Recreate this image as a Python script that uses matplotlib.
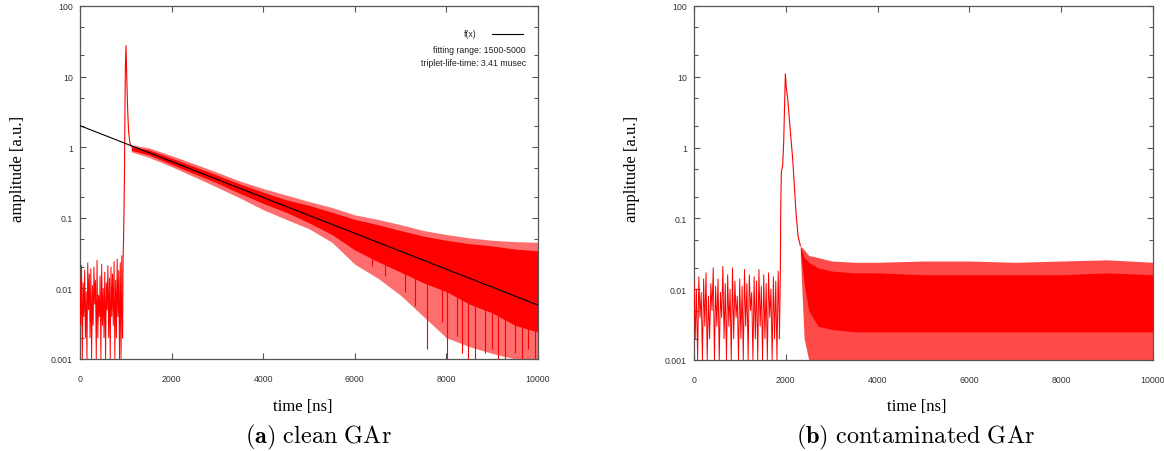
import matplotlib
matplotlib.use('Agg')

import matplotlib.pyplot as plt
import numpy as np
from matplotlib.ticker import FixedLocator, LogLocator, FuncFormatter, NullFormatter

plt.rcParams['mathtext.fontset'] = 'cm'

# ---------------- panel (a): clean GAr ----------------
# pre-trigger noise, alternating spike tops / bottoms (0..930 ns)
pre_a_val = [0.014, 0.003, 0.021, 0.001, 0.012, 0.004, 0.018, 0.002, 0.009, 0.001,
             0.023, 0.005, 0.016, 0.002, 0.019, 0.001, 0.011, 0.003, 0.020, 0.006,
             0.013, 0.001, 0.025, 0.002, 0.008, 0.004, 0.015, 0.001, 0.022, 0.003,
             0.010, 0.002, 0.017, 0.001, 0.012, 0.005, 0.021, 0.002, 0.014, 0.001,
             0.020, 0.004, 0.016, 0.003, 0.024, 0.001, 0.013, 0.002, 0.026, 0.004,
             0.018, 0.001, 0.023, 0.001, 0.029, 0.002]
pre_a_end = 930

# prompt peak
peak_a_t = [930, 940, 950, 960, 970, 980, 990, 1004, 1020, 1040, 1060, 1090, 1120]
peak_a_v = [0.002, 0.026, 0.045, 0.12, 0.35, 2.5, 12.8, 27.4, 10.3, 3.5, 1.7, 1.15, 1.02]

# slow component band
band_a_t = [1120, 1500, 2000, 2500, 3000, 3500, 4000, 4500, 5000, 5500,
            6000, 6500, 7000, 7500, 8000, 8500, 9000, 9500, 10000]
band_a_top = [1.08, 0.98, 0.76, 0.58, 0.44, 0.33, 0.26, 0.21, 0.17, 0.14,
              0.11, 0.095, 0.08, 0.066, 0.058, 0.052, 0.048, 0.046, 0.045]
band_a_hi = [1.02, 0.92, 0.70, 0.53, 0.40, 0.30, 0.23, 0.18, 0.15, 0.12,
             0.095, 0.08, 0.066, 0.055, 0.048, 0.043, 0.040, 0.036, 0.034]
band_a_lo = [0.90, 0.78, 0.57, 0.42, 0.31, 0.22, 0.16, 0.12, 0.085, 0.058,
             0.035, 0.024, 0.017, 0.012, 0.009, 0.006, 0.0045, 0.003, 0.0024]
band_a_bot = [0.86, 0.72, 0.53, 0.38, 0.27, 0.19, 0.13, 0.095, 0.07, 0.045,
              0.022, 0.014, 0.008, 0.004, 0.002, 0.0015, 0.0012, 0.001, 0.001]

# deep downward spikes
spike_a_t = [6368, 6659, 7096, 7314, 7569, 7897, 8006, 8224, 8333, 8479,
             8624, 8843, 8989, 9134, 9279, 9498, 9643, 9789, 9934]
spike_a_lo = [0.021, 0.0151, 0.0088, 0.0057, 0.0014, 0.0033, 0.001, 0.0021, 0.0012, 0.001,
              0.001, 0.0012, 0.0014, 0.001, 0.001, 0.0012, 0.001, 0.0014, 0.001]
spike_a_hi = [0.04, 0.03, 0.02, 0.016, 0.013, 0.011, 0.010, 0.009, 0.008, 0.007,
              0.006, 0.006, 0.005, 0.004, 0.004, 0.004, 0.003, 0.003, 0.003]

# fit line
fit_t = [0, 10000]
fit_v = [2.02, 0.0058]

# ---------------- panel (b): contaminated GAr ----------------
pre_b_val = [0.013, 0.002, 0.010, 0.001, 0.015, 0.004, 0.009, 0.001, 0.014, 0.003,
             0.017, 0.001, 0.008, 0.002, 0.012, 0.005, 0.020, 0.001, 0.011, 0.003,
             0.014, 0.001, 0.009, 0.004, 0.021, 0.002, 0.012, 0.001, 0.016, 0.003,
             0.010, 0.001, 0.020, 0.002, 0.013, 0.004, 0.008, 0.001, 0.014, 0.002,
             0.011, 0.001, 0.019, 0.003, 0.012, 0.001, 0.016, 0.005, 0.009, 0.001,
             0.015, 0.002, 0.013, 0.001, 0.019, 0.003, 0.011, 0.001, 0.016, 0.002,
             0.012, 0.001, 0.017, 0.004, 0.010, 0.001, 0.015, 0.002, 0.013, 0.001,
             0.018, 0.003]
pre_b_end = 1860

peak_b_t = [1860, 1881, 1890, 1903, 1932, 1954, 1975, 1990, 2012, 2041, 2077, 2113,
            2150, 2186, 2222, 2266, 2317]
peak_b_v = [0.002, 0.0175, 0.136, 0.45, 0.556, 1.19, 4.39, 11.0, 6.76, 4.9, 2.55, 1.33,
            0.69, 0.29, 0.122, 0.057, 0.041]

band_b_t = [2317, 2400, 2500, 2700, 3000, 3500, 4000, 5000, 6000, 7000, 8000, 9000, 10000]
band_b_top = [0.041, 0.036, 0.030, 0.028, 0.025, 0.024, 0.024, 0.025, 0.025, 0.024, 0.025, 0.026, 0.024]
band_b_hi = [0.040, 0.028, 0.024, 0.020, 0.018, 0.017, 0.017, 0.016, 0.016, 0.016, 0.016, 0.017, 0.016]
band_b_lo = [0.036, 0.012, 0.005, 0.003, 0.0027, 0.0025, 0.0025, 0.0025, 0.0025, 0.0025, 0.0025, 0.0025, 0.0025]
band_b_bot = [0.030, 0.002, 0.001, 0.001, 0.001, 0.001, 0.001, 0.001, 0.001, 0.001, 0.001, 0.001, 0.001]

RED = '#ff0000'
PINK_A = '#ff6e6e'
PINK_B = '#ff4a4a'
TICKFONT = ['Liberation Sans Narrow', 'Liberation Sans']

fig = plt.figure(figsize=(11.64, 4.52), dpi=100)
ax_a = fig.add_axes([80/1164, 1-360/452, 458/1164, 353/452])
ax_b = fig.add_axes([694/1164, 1-361/452, 459/1164, 354/452])


def style_axes(ax):
    ax.set_yscale('log')
    ax.set_xlim(0, 10000)
    ax.set_ylim(0.001, 100)
    ax.xaxis.set_major_locator(FixedLocator([0, 2000, 4000, 6000, 8000, 10000]))
    ax.yaxis.set_major_locator(FixedLocator([0.001, 0.01, 0.1, 1, 10, 100]))
    ax.yaxis.set_minor_locator(LogLocator(base=10, subs=(2.0, 5.0)))
    ax.yaxis.set_minor_formatter(NullFormatter())
    ax.yaxis.set_major_formatter(FuncFormatter(lambda v, p: ('%g' % v)))
    ax.tick_params(which='both', direction='in', top=True, right=True,
                   color='#555555', width=0.8)
    ax.tick_params(which='major', length=4)
    ax.tick_params(which='minor', length=3)
    ax.tick_params(axis='x', pad=11)
    ax.tick_params(axis='y', pad=5)
    for lab in ax.get_xticklabels() + ax.get_yticklabels():
        lab.set_family(TICKFONT)
        lab.set_fontsize(6.3)
        lab.set_color('#333333')
    for s in ax.spines.values():
        s.set_color('#555555')
        s.set_linewidth(0.9)


def zigzag(ax, end, vals):
    t = np.linspace(0, end, len(vals))
    ax.plot(t, vals, color=RED, lw=0.7, zorder=3)


# panel a
style_axes(ax_a)
zigzag(ax_a, pre_a_end, pre_a_val)
ax_a.plot(peak_a_t, peak_a_v, color=RED, lw=0.8, zorder=3)
ax_a.fill_between(band_a_t, band_a_bot, band_a_top, color=PINK_A, lw=0, zorder=2)
ax_a.fill_between(band_a_t, band_a_lo, band_a_hi, color=RED, lw=0, zorder=2.5)
ax_a.vlines(spike_a_t, spike_a_lo, spike_a_hi, color=RED, lw=0.8, zorder=2.6)
ax_a.plot(fit_t, fit_v, color='black', lw=0.8, zorder=4)

# legend-like text block
kw = dict(transform=ax_a.transAxes, ha='right', va='center', fontsize=6.3,
          family=TICKFONT, color='#222222')
ax_a.text(0.867, 0.921, 'f(x)', **kw)
ax_a.plot([0.899, 0.967], [0.921, 0.921], transform=ax_a.transAxes, color='black', lw=0.8)
ax_a.text(0.974, 0.878, 'fitting range: 1500-5000', **kw)
ax_a.text(0.974, 0.841, 'triplet-life-time: 3.41 musec', **kw)

# panel b
style_axes(ax_b)
zigzag(ax_b, pre_b_end, pre_b_val)
ax_b.plot(peak_b_t, peak_b_v, color=RED, lw=0.8, zorder=3)
ax_b.fill_between(band_b_t, band_b_bot, band_b_top, color=PINK_B, lw=0, zorder=2)
ax_b.fill_between(band_b_t, band_b_lo, band_b_hi, color=RED, lw=0, zorder=2.5)

# axis labels
lab_kw = dict(family='Liberation Serif', fontsize=12, ha='center', va='center')
fig.text(303/1164, 1-407/452, 'time [ns]', **lab_kw)
fig.text(917/1164, 1-407/452, 'time [ns]', **lab_kw)
fig.text(18/1164, 1-169/452, 'amplitude [a.u.]', rotation=90, **lab_kw)
fig.text(632/1164, 1-169/452, 'amplitude [a.u.]', rotation=90, **lab_kw)

# captions
fig.text(318/1164, 1-437/452, r'$\mathbf{(a)}\ \mathrm{clean\ GAr}$',
         fontsize=17.5, ha='center', va='center')
fig.text(915/1164, 1-437/452, r'$\mathbf{(b)}\ \mathrm{contaminated\ GAr}$',
         fontsize=17.5, ha='center', va='center')

fig.savefig('out.png', dpi=100, facecolor='white')
